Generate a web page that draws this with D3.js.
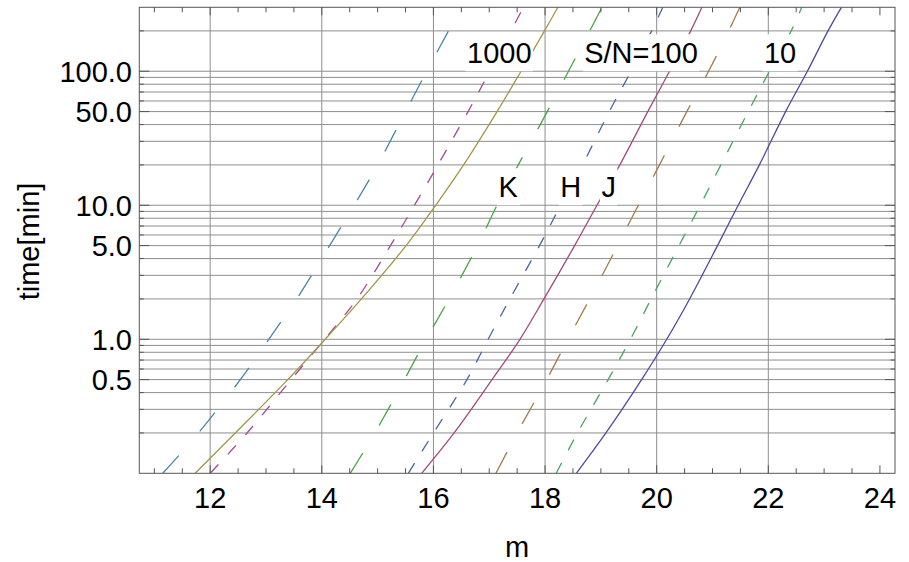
<!DOCTYPE html>
<html>
<head>
<meta charset="utf-8">
<script src="https://cdn.jsdelivr.net/npm/d3@7"></script>
<style>
  body { margin: 0; background: #fff; }
  svg { display: block; font-family: "Liberation Sans", Arial, sans-serif; }
</style>
</head>
<body>
<div id="chart"></div>
<script>
  // time (min) needed to reach a given S/N versus magnitude, per band
  let times = [0.1, 0.2, 0.5, 1, 2, 5, 10, 20, 50, 100, 200, 300];

  let k1000 = [11.15, 11.79, 12.54, 13.05, 13.55, 14.14, 14.58, 15.00, 15.50, 15.88, 16.27, 16.50];
  let h1000 = [12.00, 12.66, 13.45, 14.05, 14.63, 15.23, 15.66, 16.08, 16.62, 17.01, 17.39, 17.61];
  let j1000 = [11.73, 12.45, 13.39, 14.06, 14.71, 15.51, 16.04, 16.54, 17.14, 17.57, 17.99, 18.23];
  let k100  = [14.51, 14.95, 15.48, 15.87, 16.28, 16.79, 17.14, 17.52, 18.04, 18.42, 18.80, 19.02];
  let h100  = [15.55, 16.00, 16.60, 16.98, 17.37, 17.90, 18.28, 18.67, 19.15, 19.54, 19.91, 20.11];
  let j100  = [15.79, 16.37, 17.05, 17.55, 17.98, 18.53, 18.93, 19.34, 19.84, 20.23, 20.61, 20.81];
  let k10   = [17.12, 17.50, 18.03, 18.41, 18.80, 19.30, 19.67, 20.05, 20.54, 20.93, 21.29, 21.49];
  let h10   = [18.20, 18.58, 19.13, 19.53, 19.90, 20.40, 20.78, 21.15, 21.64, 22.02, 22.41, 22.60];
  let j10   = [18.56, 19.09, 19.73, 20.18, 20.59, 21.09, 21.46, 21.84, 22.31, 22.70, 23.07, 23.31];

  let xMajor = [12, 14, 16, 18, 20, 22, 24];
  let xGrid = [12, 14, 16, 18, 20, 22];
  let yMajor = [0.5, 1, 5, 10, 50, 100];
  let yGrid = [0.2, 0.3, 0.4, 0.5, 0.6, 0.7, 0.8, 0.9, 1, 2, 3, 4, 5, 6, 7, 8, 9,
               10, 20, 30, 40, 50, 60, 70, 80, 90, 100, 200];

  let snLabels = ['1000', 'S/N=100', '10'];
  let bandLabels = ['K', 'H', 'J'];

  let width = 909, height = 562;
  let pL = 139.3, pR = 895, pT = 7.3, pB = 473.3;

  let x = d3.scaleLinear().domain([10.73, 24.27]).range([pL, pR]);
  let y = d3.scaleLog().domain([0.1, 300]).range([pB, pT]);

  let svg = d3.select('#chart').append('svg')
    .attr('width', width).attr('height', height);

  svg.append('clipPath').attr('id', 'plot')
    .append('rect')
    .attr('x', pL).attr('y', pT)
    .attr('width', pR - pL).attr('height', pB - pT);

  // grid
  let grid = svg.append('g').attr('stroke', '#8e8e8e').attr('stroke-width', 1);
  grid.selectAll('.gx').data(xGrid).enter().append('line')
    .attr('x1', d => x(d)).attr('x2', d => x(d))
    .attr('y1', pT).attr('y2', pB);
  grid.selectAll('.gy').data(yGrid).enter().append('line')
    .attr('x1', pL).attr('x2', pR)
    .attr('y1', d => y(d)).attr('y2', d => y(d));

  // curves: long dash = K, short dash = H, solid = J
  let series = [
    { m: k1000, color: '#4A86A6', dash: '24,32' },
    { m: h1000, color: '#A5499B', dash: '12,14' },
    { m: j1000, color: '#A5974A', dash: null },
    { m: k100,  color: '#4AA544', dash: '24,32' },
    { m: h100,  color: '#4A67A5', dash: '12,14' },
    { m: j100,  color: '#A5497D', dash: null },
    { m: k10,   color: '#A57A4A', dash: '24,32' },
    { m: h10,   color: '#4AA563', dash: '12,14' },
    { m: j10,   color: '#4C4AA5', dash: null }
  ];

  let line = d3.line()
    .x(d => x(d[0]))
    .y(d => y(d[1]))
    .curve(d3.curveCatmullRom.alpha(0.5));

  svg.append('g').attr('clip-path', 'url(#plot)')
    .selectAll('path').data(series).enter().append('path')
    .attr('d', s => line(s.m.map((m, i) => [m, times[i]])))
    .attr('fill', 'none')
    .attr('stroke', s => s.color)
    .attr('stroke-width', 1.3)
    .attr('stroke-dasharray', s => s.dash);

  // labels inside the plot, on white boxes
  let notes = [
    { text: snLabels[0], m: 17.18, t: 137 },
    { text: snLabels[1], m: 19.72, t: 137 },
    { text: snLabels[2], m: 22.21, t: 137 },
    { text: bandLabels[0], m: 17.34, t: 13.7 },
    { text: bandLabels[1], m: 18.46, t: 13.7 },
    { text: bandLabels[2], m: 19.14, t: 13.7 }
  ];
  let noteG = svg.append('g').style('font-size', '29px');
  notes.forEach(function(n) {
    let g = noteG.append('g');
    let txt = g.append('text')
      .attr('x', x(n.m)).attr('y', y(n.t) + 10.3)
      .attr('text-anchor', 'middle')
      .attr('fill', '#000')
      .text(n.text);
    let b = txt.node().getBBox();
    g.insert('rect', 'text')
      .attr('x', b.x - 1.5).attr('y', b.y - 3)
      .attr('width', b.width + 3).attr('height', b.height + 5)
      .attr('fill', '#fff');
  });

  // frame and ticks
  let axes = svg.append('g').attr('stroke', '#555').attr('stroke-width', 1);
  axes.append('rect')
    .attr('x', pL).attr('y', pT)
    .attr('width', pR - pL).attr('height', pB - pT)
    .attr('fill', 'none');

  let xMinor = d3.range(11, 24.01, 0.5).filter(d => xMajor.indexOf(d) < 0);
  let xTicks = xMajor.map(d => [d, 8]).concat(xMinor.map(d => [d, 5]));
  axes.selectAll('.xb').data(xTicks).enter().append('line')
    .attr('x1', d => x(d[0])).attr('x2', d => x(d[0]))
    .attr('y1', pB).attr('y2', d => pB - d[1]);
  axes.selectAll('.xt').data(xTicks).enter().append('line')
    .attr('x1', d => x(d[0])).attr('x2', d => x(d[0]))
    .attr('y1', pT).attr('y2', d => pT + d[1]);

  let yTicks = yGrid.map(d => [d, yMajor.indexOf(d) >= 0 ? 10 : 4.5]);
  axes.selectAll('.yl').data(yTicks).enter().append('line')
    .attr('x1', pL).attr('x2', d => pL + d[1])
    .attr('y1', d => y(d[0])).attr('y2', d => y(d[0]));
  axes.selectAll('.yr').data(yTicks).enter().append('line')
    .attr('x1', pR).attr('x2', d => pR - d[1])
    .attr('y1', d => y(d[0])).attr('y2', d => y(d[0]));

  // tick labels
  let fmt = d3.format('.1f');
  let labels = svg.append('g').style('font-size', '29px').attr('fill', '#000');
  labels.selectAll('.xl').data(xMajor).enter().append('text')
    .attr('x', d => x(d)).attr('y', 508.3)
    .attr('text-anchor', 'middle')
    .text(d => d);
  labels.selectAll('.yl').data(yMajor).enter().append('text')
    .attr('x', 132).attr('y', d => y(d) + 10.3)
    .attr('text-anchor', 'end')
    .text(d => fmt(d));

  labels.append('text')
    .attr('x', (pL + pR) / 2).attr('y', 556.7)
    .attr('text-anchor', 'middle')
    .text('m');
  labels.append('text')
    .attr('transform', 'translate(39.3,241.5) rotate(-90)')
    .attr('text-anchor', 'middle')
    .text('time[min]');
</script>
</body>
</html>
